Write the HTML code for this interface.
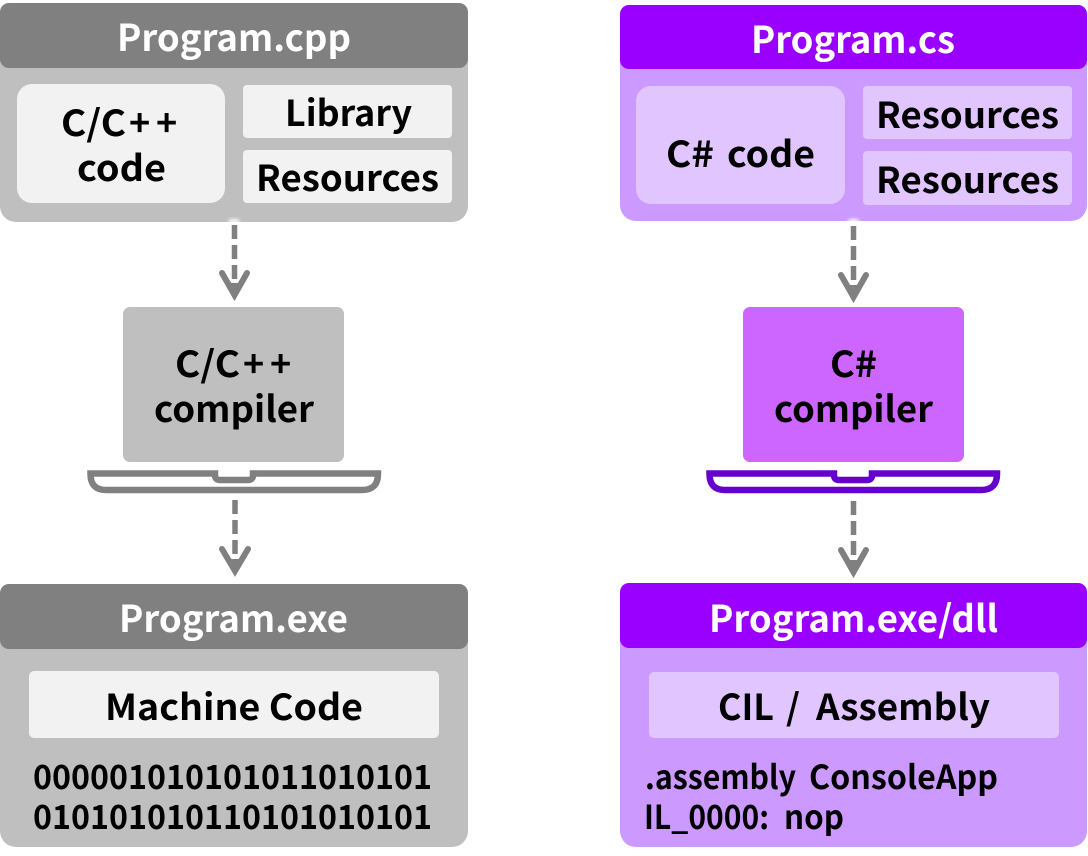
<!DOCTYPE html>
<html><head><meta charset="utf-8"><style>
html,body{margin:0;padding:0;background:#fff;width:1088px;height:856px;overflow:hidden}
svg{display:block}
text{font-family:"Noto Sans CJK KR","Liberation Sans",sans-serif;font-weight:700;fill:#000;font-size:36px}
.w{fill:#fff;font-size:37px}
.s{font-size:33px}
</style></head><body>
<svg width="1088" height="856" viewBox="0 0 1088 856" xmlns="http://www.w3.org/2000/svg">
<defs><filter id="g" x="-100%" y="-100%" width="300%" height="300%"><feGaussianBlur stdDeviation="1.5"/></filter></defs>

<!-- Left top -->
<rect x="0" y="3" width="468" height="219" rx="16" fill="#bfbfbf"/>
<rect x="0" y="3" width="468" height="65" rx="9" fill="#808080"/>
<rect x="17" y="84" width="208" height="119" rx="15" fill="#f2f2f2"/>
<rect x="243" y="85" width="209" height="53" rx="4" fill="#f2f2f2"/>
<rect x="243" y="150" width="209" height="53" rx="4" fill="#f2f2f2"/>
<text class="w" x="117" y="51" textLength="234" lengthAdjust="spacingAndGlyphs">Program.cpp</text>
<text x="61" y="136" textLength="65" lengthAdjust="spacingAndGlyphs">C/C</text>
<text x="129" y="136">+</text><text x="156" y="136">+</text>
<text x="77" y="181" textLength="89" lengthAdjust="spacingAndGlyphs">code</text>
<text x="285" y="126" textLength="127" lengthAdjust="spacingAndGlyphs">Library</text>
<text x="256" y="191" textLength="183" lengthAdjust="spacingAndGlyphs">Resources</text>

<!-- Right top -->
<rect x="620" y="5" width="467" height="216" rx="16" fill="#cc99ff"/>
<rect x="620" y="5" width="467" height="64" rx="9" fill="#9900ff"/>
<rect x="636" y="86" width="209" height="118" rx="15" fill="#e0c5ff"/>
<rect x="863" y="86" width="209" height="53" rx="4" fill="#e0c5ff"/>
<rect x="863" y="151" width="209" height="54" rx="4" fill="#e0c5ff"/>
<text class="w" x="751" y="53" textLength="204" lengthAdjust="spacingAndGlyphs">Program.cs</text>
<text x="666" y="167" textLength="48" lengthAdjust="spacingAndGlyphs">C#</text>
<text x="727" y="167" textLength="88" lengthAdjust="spacingAndGlyphs">code</text>
<text x="876" y="128" textLength="183" lengthAdjust="spacingAndGlyphs">Resources</text>
<text x="876" y="193" textLength="183" lengthAdjust="spacingAndGlyphs">Resources</text>

<!-- Compilers -->
<rect x="123" y="307" width="221" height="155" rx="7" fill="#bfbfbf"/>
<text x="175" y="377" textLength="65" lengthAdjust="spacingAndGlyphs">C/C</text>
<text x="243" y="377">+</text><text x="270" y="377">+</text>
<text x="154" y="422" textLength="160" lengthAdjust="spacingAndGlyphs">compiler</text>
<rect x="743" y="307" width="221" height="155" rx="7" fill="#cc66ff"/>
<text x="830" y="377" textLength="47" lengthAdjust="spacingAndGlyphs">C#</text>
<text x="774" y="422" textLength="159" lengthAdjust="spacingAndGlyphs">compiler</text>

<!-- Laptops -->
<path d="M90.500 473.500H215V475Q215 480 220 480H248Q253 480 253 475V473.500H378V474Q378 490 362 490H106Q90.500 490 90.500 474Z" fill="#fff" stroke="#808080" stroke-width="6.500"/>
<path d="M709.500 473.500H834V475Q834 480 839 480H867Q872 480 872 475V473.500H997V474Q997 490 981 490H725Q709.500 490 709.500 474Z" fill="#fff" stroke="#6600cc" stroke-width="6.500"/>

<!-- Bottom left -->
<rect x="0" y="584" width="468" height="263" rx="16" fill="#bfbfbf"/>
<rect x="0" y="584" width="468" height="65" rx="9" fill="#808080"/>
<rect x="29" y="671" width="410" height="67" rx="5" fill="#f2f2f2"/>
<text class="w" x="119" y="632" textLength="229" lengthAdjust="spacingAndGlyphs">Program.exe</text>
<text x="105" y="720" textLength="258" lengthAdjust="spacingAndGlyphs">Machine Code</text>
<text class="s" x="33" y="789" textLength="399" lengthAdjust="spacingAndGlyphs">000001010101011010101</text>
<text class="s" x="33" y="829" textLength="399" lengthAdjust="spacingAndGlyphs">010101010110101010101</text>

<!-- Bottom right -->
<rect x="620" y="583" width="467" height="264" rx="16" fill="#cc99ff"/>
<rect x="620" y="583" width="467" height="65" rx="9" fill="#9900ff"/>
<rect x="649" y="672" width="410" height="66" rx="5" fill="#e0c5ff"/>
<text class="w" x="709" y="632" textLength="289" lengthAdjust="spacingAndGlyphs">Program.exe/dll</text>
<text x="718" y="720" textLength="56" lengthAdjust="spacingAndGlyphs">CIL</text>
<text x="786" y="720">/</text>
<text x="816" y="720" textLength="174" lengthAdjust="spacingAndGlyphs">Assembly</text>
<text class="s" x="645" y="789" textLength="151" lengthAdjust="spacingAndGlyphs">.assembly</text>
<text class="s" x="809" y="789" textLength="189" lengthAdjust="spacingAndGlyphs">ConsoleApp</text>
<text class="s" x="644" y="829" textLength="125" lengthAdjust="spacingAndGlyphs">IL_0000:</text>
<text class="s" x="784" y="829" textLength="60" lengthAdjust="spacingAndGlyphs">nop</text>

<!-- Glows -->
<g fill="#fff" filter="url(#g)">
<ellipse cx="234" cy="221" rx="6" ry="2"/>
<ellipse cx="853.500" cy="221" rx="6" ry="2"/>
</g>

<!-- Arrows -->
<g stroke="#808080" stroke-width="5.500" fill="none">
<path d="M234.500 225V282" stroke-dasharray="14 6"/>
<path d="M222 273L234.500 295L247 273" stroke-linecap="round" stroke-width="6"/>
<path d="M853.500 226V283" stroke-dasharray="14 6"/>
<path d="M841 275L853.500 297L866 275" stroke-linecap="round" stroke-width="6"/>
<path d="M235 500V558" stroke-dasharray="14 6"/>
<path d="M222 549L235 571L248 549" stroke-linecap="round" stroke-width="6"/>
<path d="M853.500 501V558" stroke-dasharray="14 6"/>
<path d="M841 550L853.500 572L866 550" stroke-linecap="round" stroke-width="6"/>
</g>
<g fill="#808080">
<path d="M226 283H243L234.500 300Z"/>
<path d="M845 285H862L853.500 303Z"/>
<path d="M226.500 559H243.500L235 576Z"/>
<path d="M845 560H862L853.500 577Z"/>
</g>
</svg>
</body></html>
